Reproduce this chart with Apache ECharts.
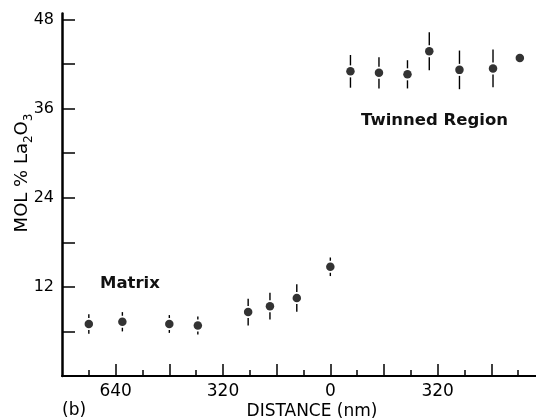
<!DOCTYPE html>
<html>
<head>
<meta charset="utf-8">
<script src="https://cdn.jsdelivr.net/npm/echarts@6/dist/echarts.min.js"></script>
<style>
html,body{margin:0;padding:0;background:#fff;}
#c{width:536px;height:420px;}
</style>
</head>
<body>
<div id="c"></div>
<script>
// Distance (nm): negative = matrix side, positive = twinned side
const matrixX   = [-720, -620, -480, -395, -245, -180, -100, 0];
const matrixY   = [7.0, 7.3, 7.0, 6.8, 8.6, 9.4, 10.5, 14.7];
const matrixErr = [1.3, 1.3, 1.2, 1.2, 1.8, 1.8, 1.85, 1.25];

const twinX   = [60, 145, 230, 295, 385, 485, 565];
const twinY   = [41.0, 40.8, 40.6, 43.7, 41.2, 41.4, 42.8];
const twinErr = [2.2, 2.1, 1.9, 2.55, 2.6, 2.55, 0];

const yTickValues  = [6, 12, 18, 24, 30, 36, 42, 48];
const yLabelValues = [12, 24, 36, 48];
const xMajorTicks  = [-640, -480, -320, -160, 0, 160, 320, 480];
const xMinorTicks  = [-720, -560, -400, -240, -80, 80, 240, 400, 560];
const xLabelValues = [-640, -320, 0, 320];

const FONT = '"DejaVu Sans", sans-serif';

const pts = [];
matrixX.forEach((x, i) => pts.push([x, matrixY[i], matrixErr[i]]));
twinX.forEach((x, i) => pts.push([x, twinY[i], twinErr[i]]));

const chart = echarts.init(document.getElementById('c'));
chart.setOption({
  animation: false,
  backgroundColor: '#fff',
  grid: { left: 62, right: -9, top: 13.4, bottom: 44, containLabel: false, outerBoundsMode: 'none' },
  xAxis: [
    {
      type: 'value', min: -800, max: 640,
      axisLine: { onZero: false, lineStyle: { color: '#000', width: 2 } },
      axisTick: { inside: true, length: 12, customValues: xMajorTicks, lineStyle: { color: '#000', width: 1.5 } },
      splitLine: { show: false },
      axisLabel: {
        color: '#000', fontSize: 17, fontFamily: FONT, margin: 7,
        customValues: xLabelValues,
        formatter: v => String(Math.abs(v))
      }
    },
    {
      type: 'value', min: -800, max: 640, position: 'bottom',
      axisLine: { show: false, onZero: false },
      axisTick: { inside: true, length: 6, customValues: xMinorTicks, lineStyle: { color: '#000', width: 1.5 } },
      axisLabel: { show: false },
      splitLine: { show: false }
    }
  ],
  yAxis: {
    type: 'value', min: 0, max: 48.8,
    axisLine: { onZero: false, lineStyle: { color: '#000', width: 2.5 } },
    axisTick: { inside: true, length: 13, customValues: yTickValues, lineStyle: { color: '#000', width: 1.5 } },
    splitLine: { show: false },
    axisLabel: { color: '#000', fontSize: 16, fontFamily: FONT, margin: 8, customValues: yLabelValues }
  },
  graphic: [
    { type: 'text', left: 100, top: 275, style: { text: 'Matrix', font: 'bold 16.5px "DejaVu Sans", sans-serif', fill: '#111' } },
    { type: 'text', left: 361, top: 112, style: { text: 'Twinned Region', font: 'bold 16.5px "DejaVu Sans", sans-serif', fill: '#111' } },
    { type: 'text', left: 62, top: 402, style: { text: '(b)', font: '17px ' + FONT, fill: '#000' } },
    { type: 'text', x: 312, y: 412, style: { text: 'DISTANCE (nm)', font: '17px ' + FONT, fill: '#000', align: 'center', verticalAlign: 'middle' } },
    { type: 'text', x: 22, y: 173, rotation: Math.PI / 2,
      style: {
        text: 'MOL % La{s|2}O{s|3}', font: '18px ' + FONT, fill: '#000',
        align: 'center', verticalAlign: 'middle', lineHeight: 19,
        rich: { s: { fontSize: 12, fontFamily: FONT, verticalAlign: 'bottom', lineHeight: 25, fill: '#000' } }
      } }
  ],
  series: [
    {
      type: 'custom',
      data: pts,
      renderItem: function (params, api) {
        const x = api.value(0), y = api.value(1), e = api.value(2);
        if (!e) return null;
        const c = api.coord([x, y]);
        const top = api.coord([x, y + e]);
        const bot = api.coord([x, y - e]);
        const gap = 6;
        return {
          type: 'group',
          children: [
            { type: 'line', shape: { x1: c[0], y1: top[1], x2: c[0], y2: c[1] - gap }, style: { stroke: '#000', lineWidth: 1.4 } },
            { type: 'line', shape: { x1: c[0], y1: c[1] + gap, x2: c[0], y2: bot[1] }, style: { stroke: '#000', lineWidth: 1.4 } }
          ]
        };
      },
      z: 2
    },
    {
      type: 'scatter',
      data: pts.map(p => [p[0], p[1]]),
      symbol: 'circle', symbolSize: 8.5,
      itemStyle: { color: '#000' },
      z: 3
    }
  ]
});
</script>
</body>
</html>
